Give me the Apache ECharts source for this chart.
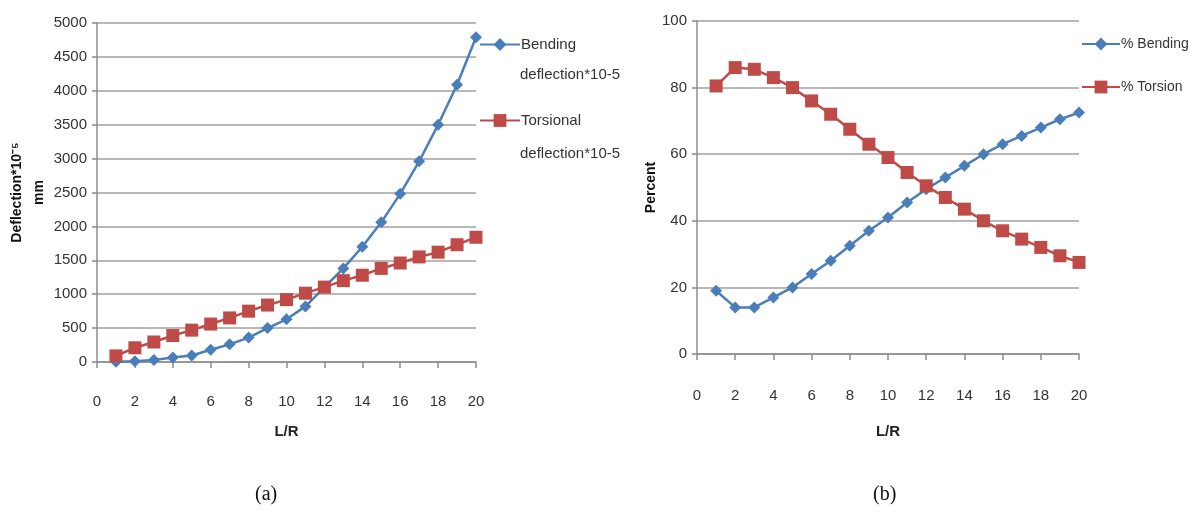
<!DOCTYPE html>
<html><head><meta charset="utf-8">
<script src="https://cdn.jsdelivr.net/npm/echarts@6/dist/echarts.min.js"></script>
<style>html,body{margin:0;padding:0;background:#fff}#c{width:1195px;height:514px}</style>
</head><body><div id="c"></div>
<script>
const lr = [1,2,3,4,5,6,7,8,9,10,11,12,13,14,15,16,17,18,19,20];
const bendingDefl = [5,10,30,65,95,180,260,360,500,630,820,1100,1380,1700,2060,2480,2960,3500,4090,4790];
const torsionDefl = [90,210,295,390,470,560,650,750,840,920,1015,1105,1200,1280,1380,1460,1550,1620,1730,1840];
const pctBending = [19,14,14,17,20,24,28,32.5,37,41,45.5,49.5,53,56.5,60,63,65.5,68,70.5,72.5];
const pctTorsion = [80.5,86,85.5,83,80,76,72,67.5,63,59,54.5,50.5,47,43.5,40,37,34.5,32,29.5,27.5];
const xTicks = {min:0, max:20, interval:2};
const leftY = {min:0, max:5000, interval:500};
const rightY = {min:0, max:100, interval:20};

const FONT = '"Liberation Sans",Arial,sans-serif';
const BLUE = '#4a7ebb', RED = '#be4b48';
const chart = echarts.init(document.getElementById('c'));

function xAxis(gi, gap, margin){
  return {type:'value', gridIndex:gi, min:xTicks.min, max:xTicks.max, interval:xTicks.interval,
    name:'L/R', nameLocation:'middle', nameGap:gap,
    nameTextStyle:{fontFamily:FONT, fontWeight:'bold', fontSize:15, color:'#222'},
    axisLine:{lineStyle:{color:'#8c8c8c', width:1.5}},
    axisTick:{show:true, length:6, lineStyle:{color:'#8c8c8c', width:1.5}},
    axisLabel:{margin:margin, fontFamily:FONT, fontSize:15, color:'#333'},
    splitLine:{show:false}};
}
function yAxis(gi, r, extra){
  return Object.assign({type:'value', gridIndex:gi, min:r.min, max:r.max, interval:r.interval,
    axisLine:{show:true, lineStyle:{color:'#8c8c8c', width:1.5}},
    axisTick:{show:true, length:5, lineStyle:{color:'#8c8c8c', width:1.5}},
    axisLabel:{margin:10, fontFamily:FONT, fontSize:15, color:'#333', formatter:v=>String(v)},
    splitLine:{lineStyle:{color:'#a0a0a0', width:1.5}}}, extra);
}
function pts(arr){ return lr.map((x,i)=>[x, arr[i]]); }
function line(name, data, gi, color, sym, size){
  return {name, type:'line', xAxisIndex:gi, yAxisIndex:gi, data:pts(data), symbol:sym, symbolSize:size,
    showSymbol:true, lineStyle:{color, width:2.5}, itemStyle:{color}, animation:false};
}

chart.setOption({
  animation:false,
  grid:[{left:97, top:23, width:379, height:339},{left:697, top:21, width:382, height:333}],
  xAxis:[xAxis(0, 62, 32), xAxis(1, 70, 34)],
  yAxis:[
    yAxis(0, leftY, {name:'Deflection*10\u207B\u2075\nmm', nameLocation:'middle', nameGap:43, nameRotate:90,
      nameTextStyle:{fontFamily:FONT, fontWeight:'bold', fontSize:14, color:'#111', lineHeight:22}}),
    yAxis(1, rightY, {name:'Percent', nameLocation:'middle', nameGap:36, nameRotate:90,
      nameTextStyle:{fontFamily:FONT, fontWeight:'bold', fontSize:14, color:'#111'}})
  ],
  legend:[
    {left:474, top:32, orient:'vertical', itemGap:61, itemWidth:40, itemHeight:16,
     data:['Bending deflection*10-5','Torsional deflection*10-5'],
     formatter:n=>n.split(' ')[0], textStyle:{fontFamily:FONT, fontSize:15, color:'#333', padding:[0,0,0,-4]}},
    {left:1076, top:32, orient:'vertical', itemGap:29, itemWidth:38, itemHeight:16,
     data:['% Bending','% Torsion'], textStyle:{fontFamily:FONT, fontSize:14, color:'#333', padding:[0,0,0,-4]}}
  ],
  graphic:[
    {type:'text', left:520, top:67, style:{text:'deflection*10-5', font:'15px '+FONT, fill:'#333'}},
    {type:'text', left:520, top:146, style:{text:'deflection*10-5', font:'15px '+FONT, fill:'#333'}},
    {type:'text', left:255, top:485, style:{text:'(a)', font:'20px "Liberation Serif","DejaVu Serif",serif', fill:'#111'}},
    {type:'text', left:873, top:485, style:{text:'(b)', font:'20px "Liberation Serif","DejaVu Serif",serif', fill:'#111'}}
  ],
  series:[
    line('Bending deflection*10-5', bendingDefl, 0, BLUE, 'diamond', 12),
    line('Torsional deflection*10-5', torsionDefl, 0, RED, 'rect', 13),
    line('% Bending', pctBending, 1, BLUE, 'diamond', 12),
    line('% Torsion', pctTorsion, 1, RED, 'rect', 13)
  ]
});
</script></body></html>
